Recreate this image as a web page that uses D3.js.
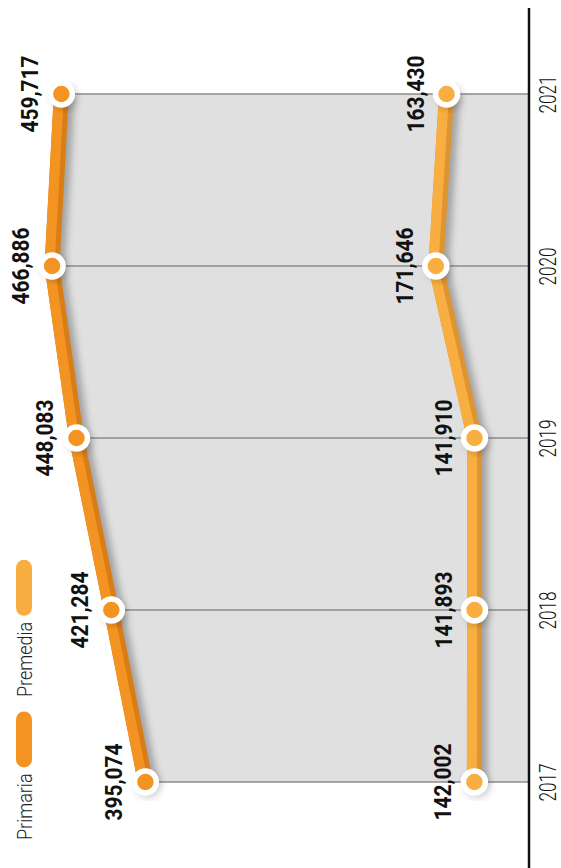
<!DOCTYPE html>
<html><head><meta charset="utf-8">
<script src="https://cdn.jsdelivr.net/npm/d3@7"></script>
<style>body{margin:0;background:#fff;overflow:hidden}</style>
</head><body>
<script>
const years = [2017, 2018, 2019, 2020, 2021];
const primaria = [395074, 421284, 448083, 466886, 459717];
const premedia = [142002, 141893, 141910, 171646, 163430];
const seriesNames = ["Primaria", "Premedia"];
const seriesColors = ["#F39322", "#F8AE40"];
const seriesShades = ["#D97D17", "#DE9430"];

const W = 561, H = 868;
const svg = d3.select("body").append("svg").attr("width", W).attr("height", H);
const defs = svg.append("defs");
defs.append("filter").attr("id", "blur").attr("x", "-50%").attr("y", "-10%").attr("width", "200%").attr("height", "120%")
  .append("feGaussianBlur").attr("stdDeviation", 3.5);

const y = d3.scalePoint().domain(years).range([782, 94]);
const x = d3.scaleLinear().domain([0, 500000]).range([659, 9]);
const axisX = 529;

const series = [primaria, premedia].map((vals, i) => ({
  name: seriesNames[i], color: seriesColors[i], shade: seriesShades[i],
  pts: years.map((yr, j) => ({ year: yr, value: vals[j] }))
}));

// gray area between Primaria and axis
const area = d3.area().y(d => y(d.year)).x0(d => x(d.value)).x1(axisX);
svg.append("path").datum(series[0].pts).attr("d", area).attr("fill", "#E0E0E0");

// gridlines
svg.append("g").selectAll("line").data(series[0].pts).join("line")
  .attr("x1", d => x(d.value)).attr("x2", axisX)
  .attr("y1", d => y(d.year)).attr("y2", d => y(d.year))
  .attr("stroke", "#8C8C8C").attr("stroke-width", 1.5);

// axis line
svg.append("line").attr("x1", axisX).attr("x2", axisX).attr("y1", 8).attr("y2", H)
  .attr("stroke", "#111").attr("stroke-width", 2.5);

// year axis
const ax = svg.append("g").attr("transform", `translate(${axisX},0)`)
  .call(d3.axisRight(y).tickSize(0).tickPadding(0));
ax.select(".domain").remove();
ax.selectAll("text")
  .attr("x", null).attr("dy", null)
  .attr("text-anchor", "middle")
  .attr("transform", "translate(27,0) rotate(-90)")
  .attr("textLength", 38).attr("lengthAdjust", "spacingAndGlyphs")
  .attr("font-family", "Roboto").attr("font-weight", 300).attr("font-size", 23).attr("fill", "#111");

const line = d3.line().y(d => y(d.year)).x(d => x(d.value));

series.forEach(s => {
  const g = svg.append("g");
  g.append("path").datum(s.pts).attr("d", line).attr("fill", "none")
    .attr("stroke", "#000").attr("stroke-opacity", 0.28).attr("stroke-width", 12)
    .attr("transform", "translate(7,2)").attr("filter", "url(#blur)");
  g.append("path").datum(s.pts).attr("d", line).attr("fill", "none")
    .attr("stroke", s.shade).attr("stroke-width", 15)
    .attr("stroke-linejoin", "round").attr("stroke-linecap", "round");
  g.append("path").datum(s.pts).attr("d", line).attr("fill", "none")
    .attr("stroke", s.color).attr("stroke-width", 10)
    .attr("stroke-linejoin", "round").attr("stroke-linecap", "round")
    .attr("transform", "translate(-2.5,0)");
  g.selectAll("circle.sh").data(s.pts).join("circle").attr("class", "sh")
    .attr("cx", d => x(d.value) + 3).attr("cy", d => y(d.year) + 3).attr("r", 13)
    .attr("fill", "#000").attr("fill-opacity", 0.18).attr("filter", "url(#blur)");
  g.selectAll("circle.dot").data(s.pts).join("circle").attr("class", "dot")
    .attr("cx", d => x(d.value)).attr("cy", d => y(d.year)).attr("r", 11)
    .attr("fill", s.color).attr("stroke", "#fff").attr("stroke-width", 5.5);
  g.selectAll("text").data(s.pts).join("text")
    .attr("transform", d => `translate(${x(d.value) - 23},${y(d.year)}) rotate(-90)`)
    .attr("text-anchor", "middle")
    .attr("textLength", 77).attr("lengthAdjust", "spacingAndGlyphs")
    .attr("font-family", "Roboto").attr("font-weight", 700).attr("font-size", 24).attr("fill", "#111")
    .text(d => d3.format(",")(d.value));
});

// legend
const leg = svg.append("g");
series.forEach((s, i) => {
  const y0 = 840 - i * 143;
  const t = leg.append("text")
    .attr("transform", `translate(32,${y0}) rotate(-90) scale(0.9,1)`)
    .attr("text-anchor", "start")
    .attr("font-family", "Roboto").attr("font-weight", 300).attr("font-size", 20).attr("fill", "#222")
    .text(s.name);
  const L = t.node().getComputedTextLength() * 0.9;
  leg.append("rect").attr("x", 16).attr("width", 16)
    .attr("y", y0 - L - 6 - 56).attr("height", 56).attr("rx", 8)
    .attr("fill", s.color);
});
</script>
</body></html>
